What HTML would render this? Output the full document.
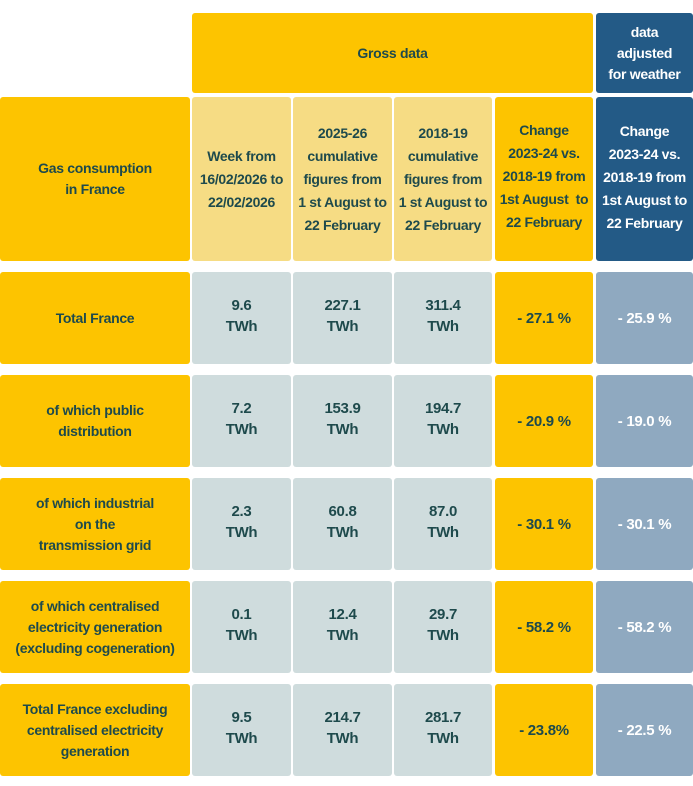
<!DOCTYPE html>
<html><head><meta charset="utf-8"><style>
body{margin:0;width:693px;height:786px;background:#fff;position:relative;overflow:hidden;font-family:"Liberation Sans",sans-serif;font-weight:bold;color:#1e4a4c}
.c{position:absolute;display:flex;align-items:center;justify-content:center;text-align:center;border-radius:3px;box-sizing:border-box;font-size:14px;line-height:21px;letter-spacing:-0.3px}
.y{background:#fdc400}.ly{background:#f6dc84}.g{background:#cfdcdd}.db{background:#235a86;color:#fff}.lb{background:#8fa9c0;color:#fff}
.h2{line-height:23px}
</style></head><body>
<div class="c y" style="left:192px;top:13px;width:401px;height:80px">Gross data</div>
<div class="c db" style="left:596px;top:13px;width:97px;height:80px;line-height:21px">data<br>adjusted<br>for weather</div>
<div class="c y" style="left:0;top:97px;width:190px;height:164px">Gas consumption<br>in France</div>
<div class="c ly h2" style="left:192px;top:97px;width:99px;height:164px">Week from<br>16/02/2026 to<br>22/02/2026</div>
<div class="c ly h2" style="left:293px;top:97px;width:99px;height:164px">2025-26<br>cumulative<br>figures from<br>1 st August to<br>22 February</div>
<div class="c ly h2" style="left:394px;top:97px;width:98px;height:164px">2018-19<br>cumulative<br>figures from<br>1 st August to<br>22 February</div>
<div class="c y h2" style="left:495px;top:97px;width:98px;height:164px;padding-bottom:6px">Change<br>2023-24 vs.<br>2018-19 from<br>1st August &nbsp;to<br>22 February</div>
<div class="c db h2" style="left:596px;top:97px;width:97px;height:164px;padding-bottom:4px">Change<br>2023-24 vs.<br>2018-19 from<br>1st August to<br>22 February</div>
<div id="rows"></div>
<script>
const labels=["Total France","of which public<br>distribution","of which industrial<br>on the<br>transmission grid","of which centralised<br>electricity generation<br>(excluding cogeneration)","Total France excluding<br>centralised electricity<br>generation"];
const week=["9.6","7.2","2.3","0.1","9.5"];
const cum2526=["227.1","153.9","60.8","12.4","214.7"];
const cum1819=["311.4","194.7","87.0","29.7","281.7"];
const change=["- 27.1 %","- 20.9 %","- 30.1 %","- 58.2 %","- 23.8%"];
const changeAdj=["- 25.9 %","- 19.0 %","- 30.1 %","- 58.2 %","- 22.5 %"];
const tops=[272,375,478,581,684];
const cols=[[0,190,'y'],[192,99,'g'],[293,99,'g'],[394,98,'g'],[495,98,'y'],[596,97,'lb']];
const names=['row-label','week-value','cumulative-2025-value','cumulative-2018-value','change-value','change-adjusted-value'];
for(let i=0;i<5;i++){
  const vals=[labels[i],week[i]+'<br>TWh',cum2526[i]+'<br>TWh',cum1819[i]+'<br>TWh',change[i],changeAdj[i]];
  for(let j=0;j<6;j++){
    const el=document.createElement('div');
    el.className='c '+cols[j][2];
    el.style.left=cols[j][0]+'px';el.style.top=tops[i]+'px';el.style.width=cols[j][1]+'px';el.style.height='92px';
    if(j>=1&&j<=3){el.style.fontSize='15px';el.style.lineHeight='21px';el.style.paddingBottom='4px';}
    if(j>=4){el.style.fontSize='15px';}
    el.innerHTML=vals[j];
    
    
    document.body.appendChild(el);
  }
}
</script>
</body></html>
